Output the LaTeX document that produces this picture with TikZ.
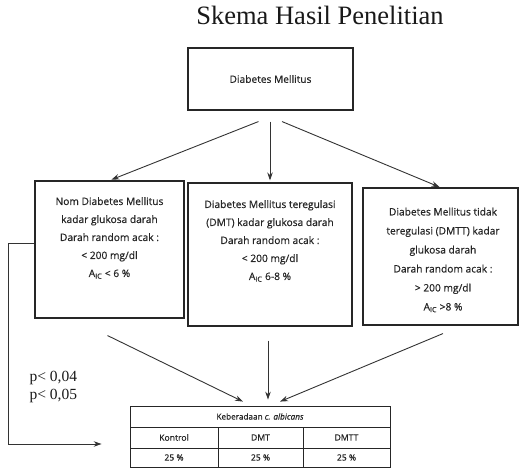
\documentclass[tikz,border=0pt]{standalone}
\usepackage{fontspec}
\setmainfont{Liberation Serif}
\newfontfamily\boxfont[FakeBold=0.6]{Open Sans}
\usetikzlibrary{arrows.meta,calc}
\begin{document}
\begin{tikzpicture}[x=1pt,y=-1pt]
\tikzset{
  frame/.style={draw=black!85, line width=1.1pt, inner sep=0pt},
  btext/.style={font=\boxfont\fontsize{10.2}{18}\selectfont, align=center, text=black!85},
  arr/.style={-{Stealth[length=8pt,width=5.5pt]}, line width=0.9pt, draw=black!80},
  cell/.style={draw=black!85, line width=0.8pt, inner sep=0pt, font=\boxfont\fontsize{8.6}{10}\selectfont, text=black!85},
}
\useasboundingbox (0,0) rectangle (523,470);

\node[font=\fontsize{26.5}{30}\selectfont, text=black!90] (title) at (320,15) {Skema Hasil Penelitian};

\node[frame, btext, minimum width=165pt, minimum height=62pt] (top) at (270.5,79) {Diabetes Mellitus};

\node[frame, minimum width=149pt, minimum height=137pt] (left) at (109.5,249.5) {};
\node[frame, minimum width=164pt, minimum height=143pt] (mid) at (270,254.5) {};
\node[frame, minimum width=155pt, minimum height=137pt] (right) at (440.5,256.5) {};

\node[btext] (lefttxt) at (109.5,238) {Nom Diabetes Mellitus\\kadar glukosa darah\\Darah random acak :\\< 200 mg/dl\\A\textsubscript{IC} < 6 \%};
\node[btext] (midtxt) at (270,241) {Diabetes Mellitus teregulasi\\(DMT) kadar glukosa darah\\Darah random acak :\\< 200 mg/dl\\A\textsubscript{IC} 6-8 \%};
\node[btext, font=\boxfont\fontsize{10.2}{19}\selectfont] (righttxt) at (443,260) {Diabetes Mellitus tidak\\teregulasi (DMTT) kadar\\glukosa darah\\Darah random acak :\\> 200 mg/dl\\A\textsubscript{IC} >8 \%};

% table
\node[cell, font=\boxfont\fontsize{8.2}{10}\selectfont, minimum width=260pt, minimum height=21pt] (hdr) at (260,416.5) {Keberadaan \textit{c. albicans}};
\node[cell, minimum width=88pt, minimum height=21pt] (c1) at (174,437.5) {Kontrol};
\node[cell, minimum width=85pt, minimum height=21pt] (c2) at (260.5,437.5) {DMT};
\node[cell, minimum width=87pt, minimum height=21pt] (c3) at (346.5,437.5) {DMTT};
\node[cell, minimum width=88pt, minimum height=19pt] (d1) at (174,457.5) {25 \%};
\node[cell, minimum width=85pt, minimum height=19pt] (d2) at (260.5,457.5) {25 \%};
\node[cell, minimum width=87pt, minimum height=19pt] (d3) at (346.5,457.5) {25 \%};

\node[font=\fontsize{15.5}{18}\selectfont, align=left, anchor=west, text=black!90] (pvals) at (26,387) {p< 0,04\\p< 0,05};

% top arrows
\coordinate (s1) at ($(top.south)+(-12,11)$);
\coordinate (s2) at ($(top.south)+(-0.5,11)$);
\coordinate (s3) at ($(top.south)+(11.5,11)$);
\draw[arr, shorten >=2pt] (s1) -- (left.north);
\draw[arr, shorten >=2pt] (s2) -- (mid.north);
\draw[arr, shorten >=1pt] (s3) -- (right.north);

% bottom arrows
\coordinate (b1) at ($(left.south)+(-2,17)$);
\coordinate (b2) at ($(mid.south)+(-2,14)$);
\coordinate (b3) at ($(right.south)+(2.5,8)$);
\coordinate (e1) at ($(hdr.north)+(-17,-4)$);
\coordinate (e2) at ($(hdr.north)+(8,-6)$);
\coordinate (e3) at ($(hdr.north)+(20,-4)$);
\draw[arr] (b1) -- (e1);
\draw[arr] (b2) -- (e2);
\draw[arr] (b3) -- (e3);

% left connector
\coordinate (k1) at (8,243);
\coordinate (k2) at (8,444);
\coordinate (k3) at ($(c1.west)+(-28,6.5)$);
\draw[arr] ([yshift=6.5pt]left.west) -- (k1) -- (k2) -- (k3);
\end{tikzpicture}
\end{document}
